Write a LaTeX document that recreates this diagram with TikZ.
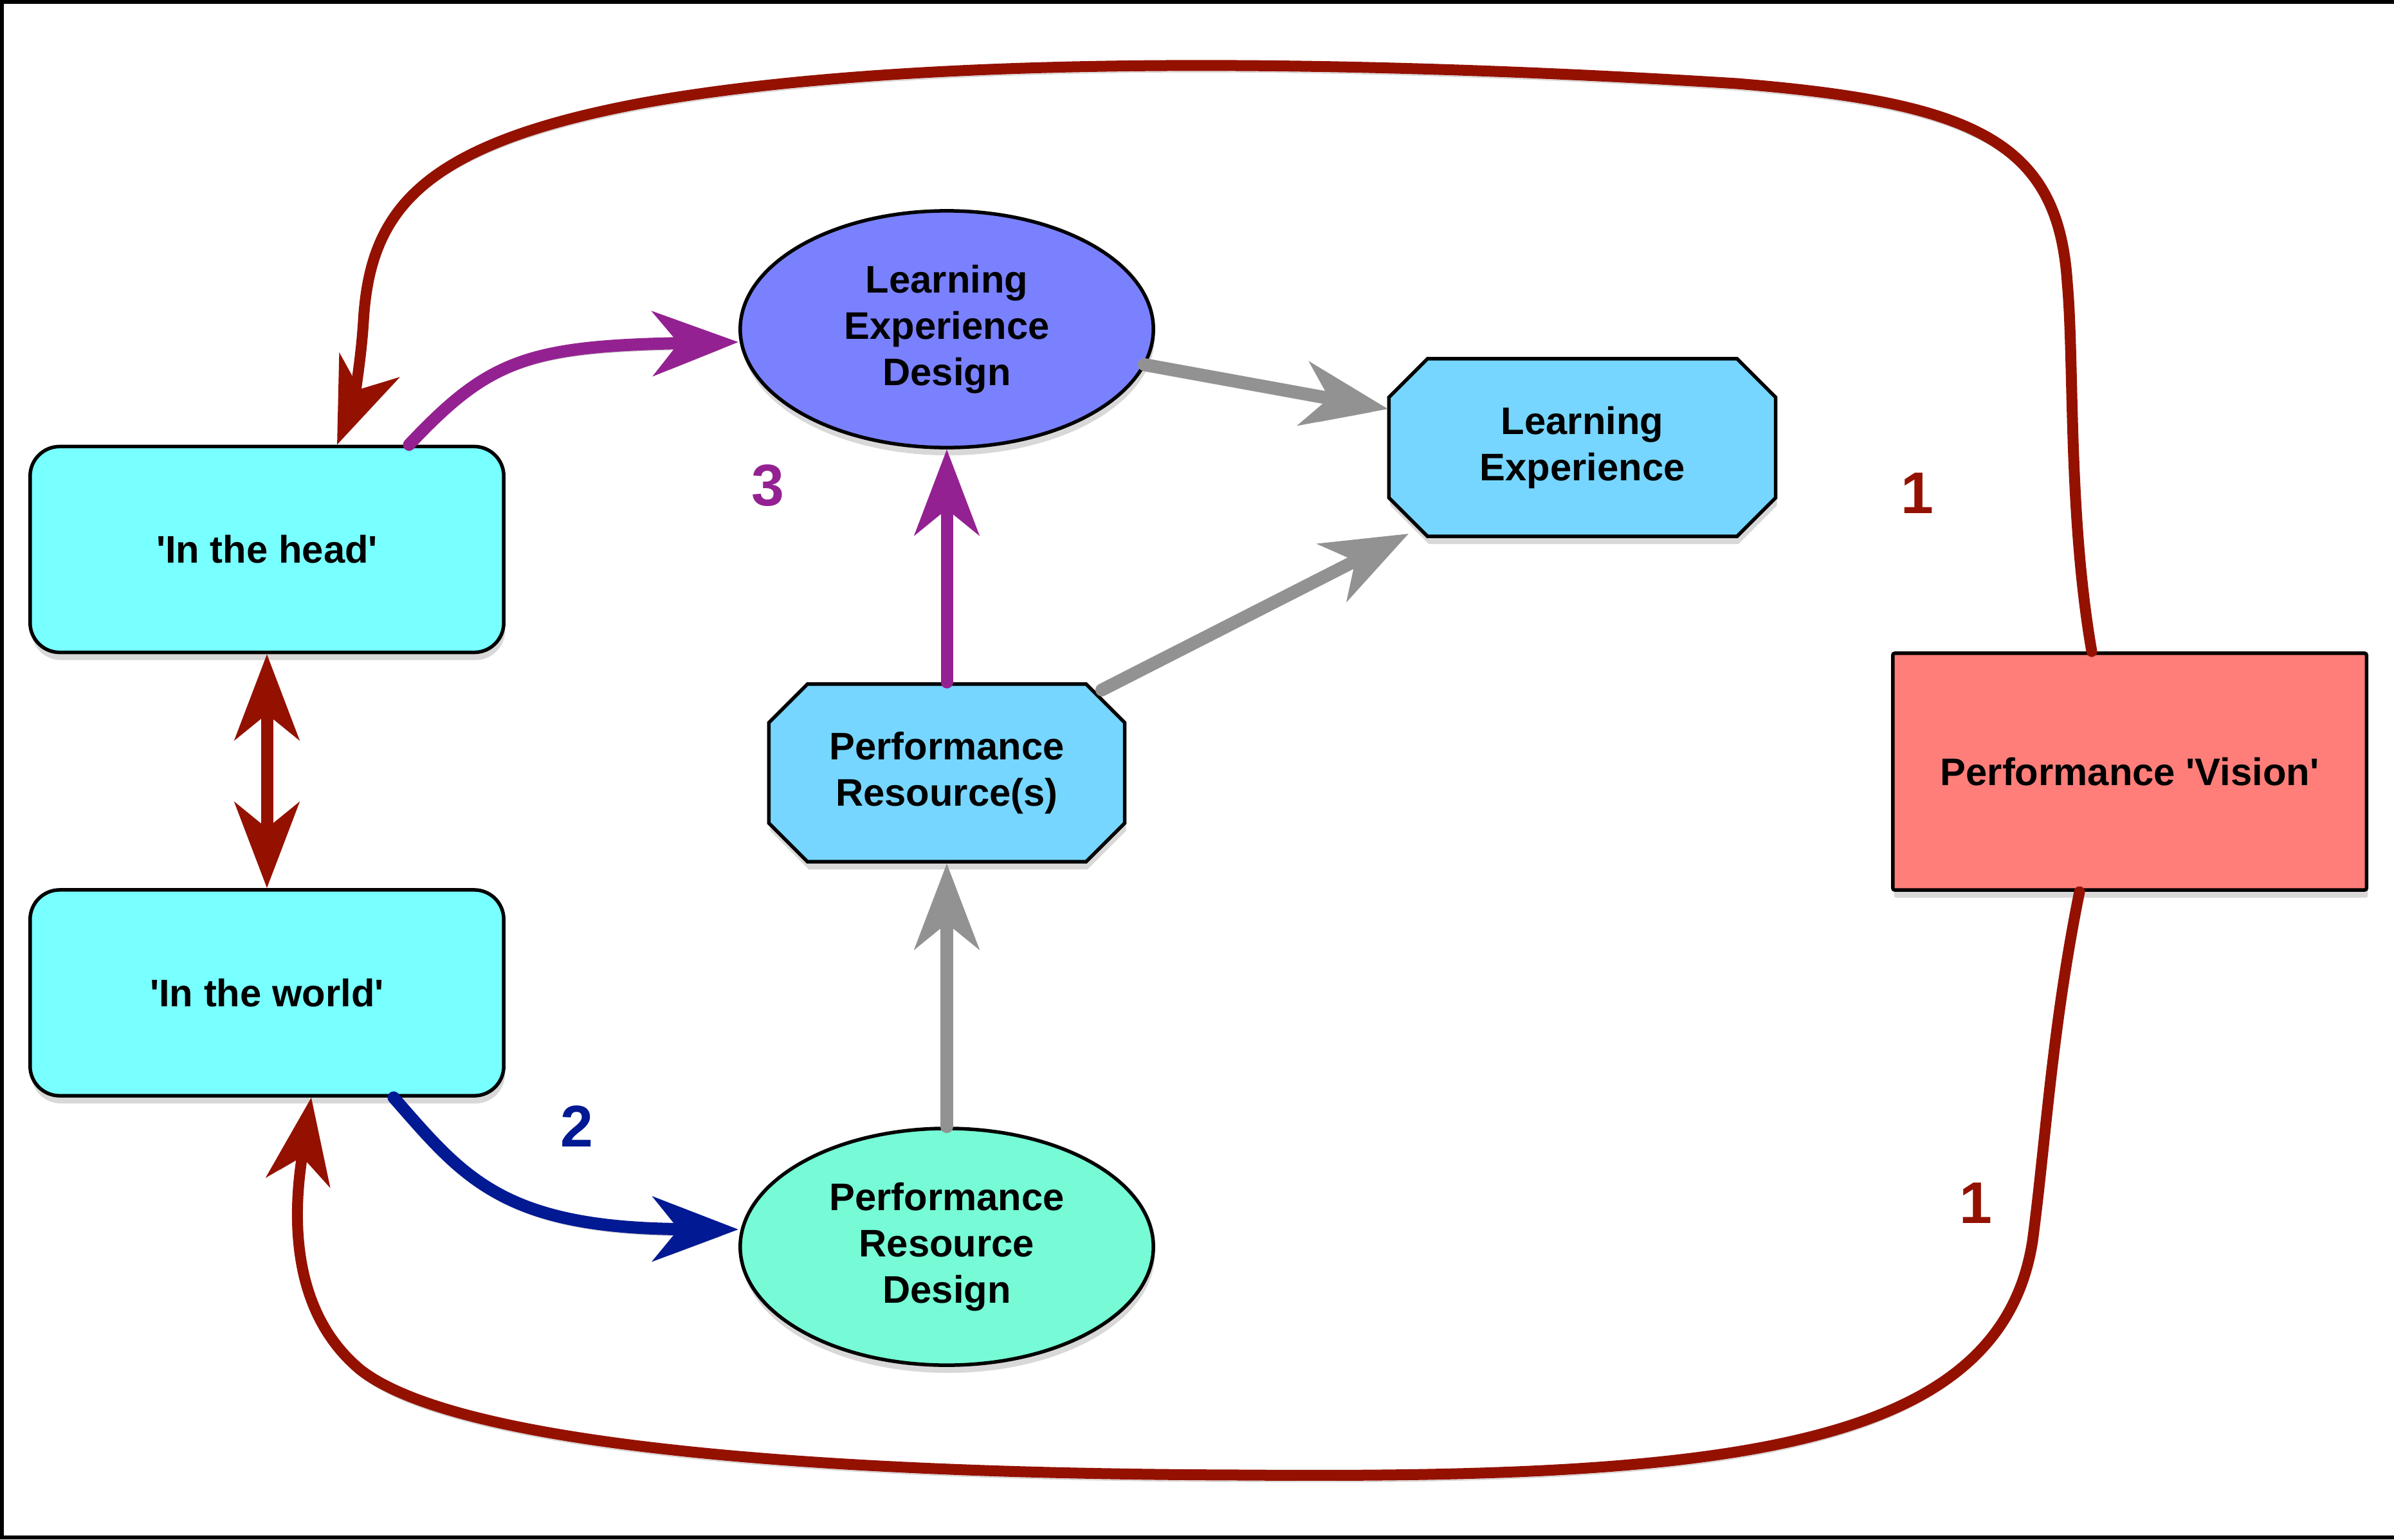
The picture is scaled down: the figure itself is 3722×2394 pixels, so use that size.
\documentclass[tikz,border=0pt]{standalone}
\usepackage{fontspec}
\setmainfont{Liberation Sans}
\usetikzlibrary{arrows.meta,shapes.misc,shapes.geometric,calc,shadows}
\definecolor{boxcyan}{RGB}{120,255,255}
\definecolor{ledblue}{RGB}{122,129,255}
\definecolor{octblue}{RGB}{118,214,255}
\definecolor{prdgreen}{RGB}{118,251,214}
\definecolor{visionred}{RGB}{255,126,121}
\definecolor{redc}{RGB}{148,17,0}
\definecolor{purplec}{RGB}{148,33,146}
\definecolor{bluec}{RGB}{1,25,147}
\definecolor{grayc}{RGB}{146,146,146}
\tikzset{bigtip/.tip={Stealth[length=1.33cm,width=1.0cm,inset=0.4cm]}}
\newcommand{\sq}{\textquotesingle}
\begin{document}
\begin{tikzpicture}[x=0.01cm,y=-0.01cm,
  nodetext/.style={font=\fontsize{17}{20.5}\selectfont\bfseries, align=center, text=black},
  shapebase/.style={nodetext, draw=black, line width=0.055cm, inner sep=0pt,
    drop shadow={shadow xshift=0.02cm, shadow yshift=-0.12cm, opacity=0.3}},
  roundbox/.style={shapebase, rectangle, rounded corners=0.46cm, minimum width=7.36cm, minimum height=3.2cm, fill=boxcyan},
  ovalbox/.style={shapebase, ellipse, minimum width=6.42cm, minimum height=3.68cm},
  octbox/.style={shapebase, chamfered rectangle, chamfered rectangle xsep=0.3cm, chamfered rectangle ysep=0.3cm, fill=octblue, minimum height=2.76cm},
  link/.style={line width=0.19cm, line cap=round, -bigtip,
    preaction={draw=black, opacity=0.2, transform canvas={yshift=-0.1cm}}},
  redloop/.style={link, draw=redc, line width=0.17cm},
  graylink/.style={link, draw=grayc, line width=0.2cm},
  numlabel/.style={font=\fontsize{26}{30}\selectfont\bfseries}
]
\useasboundingbox (0,0) rectangle (3722,2394);
\fill[white] (0,0) rectangle (3722,2394);
\draw[line width=0.06cm] (3722,3) -- (3,3) -- (3,2391) -- (3722,2391);

% nodes
\node[roundbox] (head) at (415,854.5) {\sq In the head\sq};
\node[roundbox] (world) at (415,1544) {\sq In the world\sq};
\node[ovalbox, fill=ledblue] (led) at (1472,512) {Learning\\Experience\\Design};
\node[ovalbox, fill=prdgreen] (prd) at (1472,1939) {Performance\\Resource\\Design};
\node[octbox, minimum width=6.01cm] (le) at (2460,696) {Learning\\Experience};
\node[octbox, minimum width=5.53cm] (pr) at (1472,1202) {Performance\\Resource(s)};
\node[shapebase, rectangle, rounded corners=0.03cm, fill=visionred, minimum width=7.36cm, minimum height=3.68cm] (vision) at (3311,1200) {Performance \sq Vision\sq};

% number labels
\node[numlabel, text=purplec] (n3) at (1194,755) {3};
\node[numlabel, text=bluec] (n2) at (897,1752) {2};
\node[numlabel, text=redc] (n1a) at (2981,767) {1};
\node[numlabel, text=redc] (n1b) at (3072,1871) {1};

% connectors
\draw[redloop] ($(vision.north)+(-59,0)$) .. controls (3215,800) and (3225,560) .. (3214,440)
  .. controls (3200,220) and (3070,160) .. (2700,130)
  .. controls (2300,105) and (1500,70) .. (1000,160)
  .. controls (650,225) and (575,330) .. (565,500)
  .. controls (560,580) and (545,640) .. ($(head.north)+(109,0)$);
\draw[redloop] ($(vision.south)+(-78,0)$) .. controls (3190,1600) and (3180,1780) .. (3160,1930)
  .. controls (3110,2250) and (2700,2300) .. (1936,2294)
  .. controls (1200,2292) and (700,2240) .. (560,2130)
  .. controls (440,2030) and (460,1860) .. ($(world.south)+(69,0)$);
\draw[link, draw=redc, bigtip-bigtip] (head.south) -- (world.north);
\draw[link, draw=purplec] ($(head.north)+(221,0)$) .. controls (760,560) and (820,538) .. ($(led.west)+(0,20)$);
\draw[link, draw=purplec] (pr.north) -- (led.south);
\draw[link, draw=bluec] ($(world.south)+(197,0)$) .. controls (720,1830) and (780,1910) .. ($(prd.west)+(0,-27)$);
\draw[graylink] ($(led.center)+(307,55)$) -- ($(le.center)+(-302,-60)$);
\draw[graylink] ($(pr.center)+(241,-129)$) -- ($(le.center)+(-270,134)$);
\draw[graylink] (prd.north) -- (pr.south);
\end{tikzpicture}
\end{document}
